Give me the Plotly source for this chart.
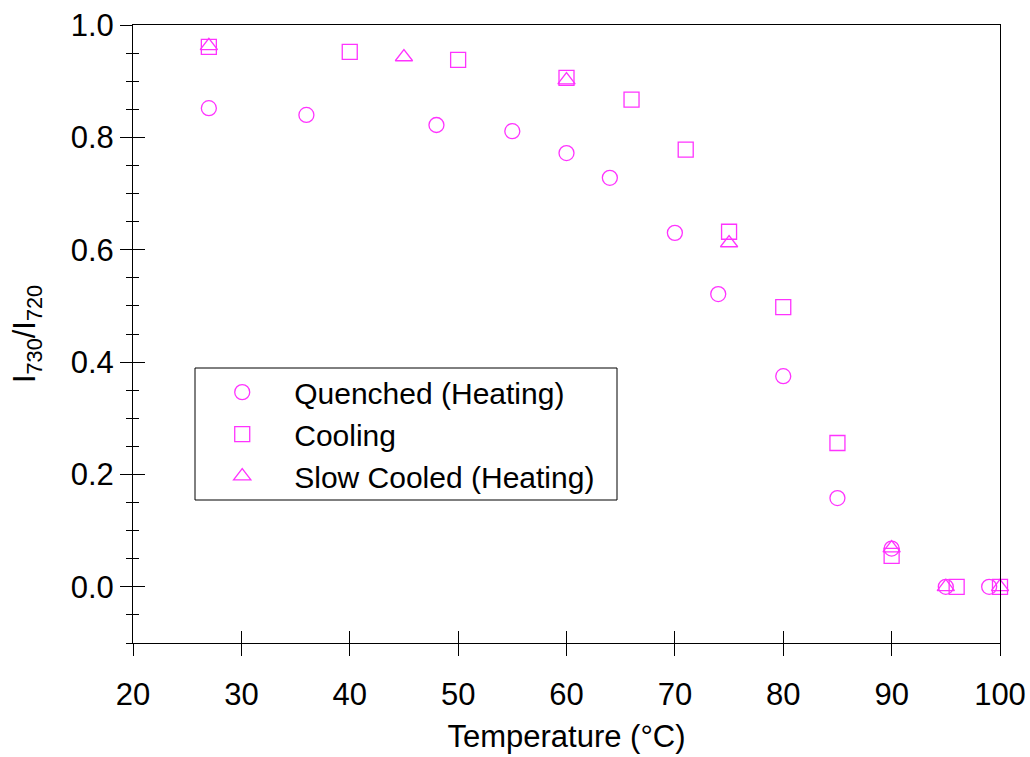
import plotly.graph_objects as go

# Temperature (°C) and intensity ratio I730/I720 for each thermal history
quenched_t = [27, 36, 48, 55, 60, 64, 70, 74, 80, 85, 90, 95, 99]
quenched_r = [0.852, 0.840, 0.822, 0.811, 0.772, 0.728, 0.630, 0.521, 0.375, 0.158, 0.068, 0.0, 0.0]

cooling_t = [27, 40, 50, 60, 66, 71, 75, 80, 85, 90, 96, 100]
cooling_r = [0.961, 0.952, 0.938, 0.906, 0.867, 0.778, 0.632, 0.498, 0.256, 0.055, 0.0, 0.0]

slow_t = [27, 45, 60, 75, 90, 95, 100]
slow_r = [0.963, 0.943, 0.902, 0.612, 0.069, 0.0, 0.0]

x_ticks = [20, 30, 40, 50, 60, 70, 80, 90, 100]
y_ticks = [0.0, 0.2, 0.4, 0.6, 0.8, 1.0]

MAGENTA = "#ff33ff"
FONT = "Liberation Sans, Arial, sans-serif"
FS = 31

fig = go.Figure()

series = [
    ("Quenched (Heating)", quenched_t, quenched_r, "circle-open"),
    ("Cooling", cooling_t, cooling_r, "square-open"),
    ("Slow Cooled (Heating)", slow_t, slow_r, "triangle-up-open"),
]
for name, xs, ys, sym in series:
    fig.add_trace(go.Scatter(
        x=xs, y=ys, mode="markers", name=name, cliponaxis=False,
        marker=dict(symbol=sym, size=15, color=MAGENTA, line=dict(width=1.3, color=MAGENTA)),
    ))

axis_common = dict(showgrid=False, zeroline=False, linecolor="black", linewidth=1,
                   tickcolor="black", tickwidth=1, automargin=False,
                   tickfont=dict(family=FONT, size=FS, color="black"))

fig.update_layout(
    width=1030, height=757,
    margin=dict(l=133, r=30, t=25, b=114),
    plot_bgcolor="white", paper_bgcolor="white",
    font=dict(family=FONT, size=FS, color="black"),
    showlegend=True,
    legend=dict(x=0.066, y=0.448, xanchor="left", yanchor="top",
                bgcolor="rgba(0,0,0,0)", borderwidth=0,
                font=dict(family=FONT, size=30, color="black"),
                itemwidth=94, tracegroupgap=0),
    xaxis=dict(range=[20, 100], tickvals=x_ticks, ticks="outside", ticklen=12,
               ticklabelstandoff=12,
               showline=True, mirror=True,
               title=dict(text="Temperature (°C)", font=dict(family=FONT, size=FS), standoff=14),
               **axis_common),
    yaxis=dict(range=[-0.1, 1.0], tickvals=y_ticks, tickformat=".1f", ticks="outside", ticklen=12,
               showline=True, mirror=True,
               minor=dict(dtick=0.05, ticks="outside", ticklen=6, tickcolor="black", tickwidth=1,
                          tick0=0),
               title=dict(text="I<sub>730</sub>/I<sub>720</sub>", font=dict(family=FONT, size=FS), standoff=25),
               **axis_common),
    # overlay axes carry the inward half of each crossing tick
    xaxis2=dict(range=[20, 100], tickvals=x_ticks, ticks="inside", ticklen=12,
                overlaying="x", anchor="y", side="bottom", showticklabels=False,
                showline=False, showgrid=False, zeroline=False, tickcolor="black", tickwidth=1),
    yaxis2=dict(range=[-0.1, 1.0], tickvals=y_ticks, ticks="inside", ticklen=12,
                overlaying="y", anchor="x", side="left", showticklabels=False,
                showline=False, showgrid=False, zeroline=False, tickcolor="black", tickwidth=1,
                minor=dict(dtick=0.05, ticks="inside", ticklen=6, tickcolor="black", tickwidth=1,
                           tick0=0)),
    shapes=[dict(type="rect", xref="paper", yref="paper",
                 x0=(195 - 133) / 867, x1=(617 - 133) / 867,
                 y0=(643 - 500) / 618, y1=(643 - 368) / 618,
                 line=dict(color="black", width=1), fillcolor="rgba(0,0,0,0)")],
)

# invisible carrier trace so the overlay axes are drawn
fig.add_trace(go.Scatter(x=[None], y=[None], xaxis="x2", yaxis="y2",
                         showlegend=False, hoverinfo="skip"))

fig.write_html("out.html")
